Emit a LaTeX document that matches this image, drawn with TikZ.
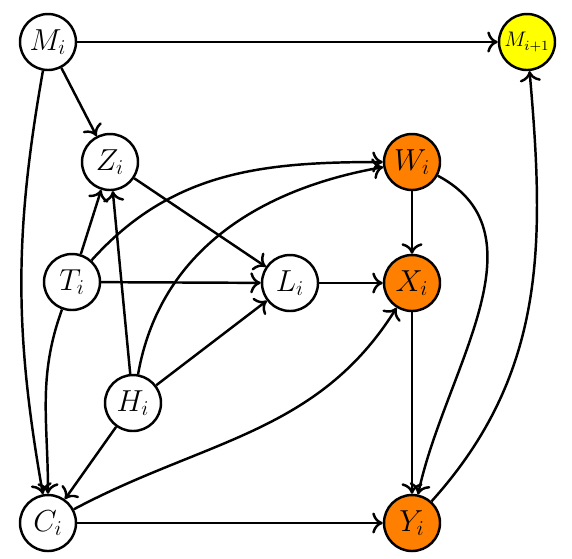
\documentclass[tikz,border=0pt]{standalone}
\usepackage{tikz}
\usetikzlibrary{arrows.meta}
\definecolor{obsfill}{HTML}{FF8000}
\definecolor{nextfill}{HTML}{FFFF00}

\begin{document}
\begin{tikzpicture}[
    var/.style={circle, draw, line width=1.4pt, minimum size=1.12cm, inner sep=0pt, font=\LARGE},
    obs/.style={var, fill=obsfill},
    edge/.style={-{To[length=6pt,width=12pt]}, line width=1.4pt}
  ]
  \useasboundingbox (0,0) rectangle (11.44,-11.16);
  \node[var] (M) at (0.96,-0.84) {$M_i$};
  \node[var, fill=nextfill, font=\large] (M1) at (10.54,-0.84) {$M_{i+1}$};
  \node[var] (Z) at (2.2,-3.24) {$Z_i$};
  \node[obs] (W) at (8.24,-3.24) {$W_i$};
  \node[var] (T) at (1.44,-5.64) {$T_i$};
  \node[var] (L) at (5.8,-5.66) {$L_i$};
  \node[obs] (X) at (8.24,-5.66) {$X_i$};
  \node[var] (H) at (2.66,-8.06) {$H_i$};
  \node[var] (C) at (0.96,-10.46) {$C_i$};
  \node[obs] (Y) at (8.24,-10.46) {$Y_i$};

  \draw[edge] (M) -- (M1);
  \draw[edge] (M) -- (Z);
  \draw[edge] (M) to[out=-100, in=100] (C);
  \draw[edge] (T) -- (Z);
  \draw[edge] (H) -- (Z);
  \draw[edge] (Z) -- (L);
  \draw[edge] (T) -- (L);
  \draw[edge] (H) -- (L);
  \draw[edge] (T) to[out=48, in=180] (W);
  \draw[edge] (H) to[out=80, in=190] (W);
  \draw[edge] (T) to[out=-110, in=90] (C);
  \draw[edge] (H) -- (C);
  \draw[edge] (L) -- (X);
  \draw[edge] (W) -- (X);
  \draw[edge] (W) to[out=-28, in=78] (Y);
  \draw[edge] (X) -- (Y);
  \draw[edge] (C) -- (Y);
  \draw[edge] (C) to[out=28, in=-122] (X);
  \draw[edge] (Y) to[out=48, in=-85] (M1);
\end{tikzpicture}
\end{document}
